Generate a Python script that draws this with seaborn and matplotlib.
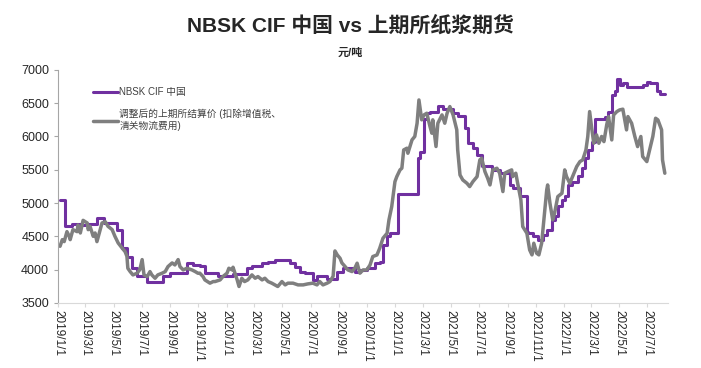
import pandas as pd
import numpy as np
import seaborn as sns
from matplotlib import pyplot as plt

# NBSK CIF China price (step changes, value holds until next date)
nbsk_dates = ['2019-01-05', '2019-01-16', '2019-01-31', '2019-02-18', '2019-03-05', '2019-03-26',
              '2019-04-11', '2019-05-09', '2019-05-20', '2019-05-30', '2019-06-10', '2019-06-21',
              '2019-07-13', '2019-08-16', '2019-09-01', '2019-10-07', '2019-10-20', '2019-11-04',
              '2019-11-15', '2019-12-13', '2020-01-15', '2020-02-14', '2020-02-25', '2020-03-18',
              '2020-03-31', '2020-04-15', '2020-05-18', '2020-05-29', '2020-06-09', '2020-06-20',
              '2020-07-06', '2020-07-15', '2020-08-06', '2020-08-28', '2020-09-09', '2020-10-05',
              '2020-10-16', '2020-10-31', '2020-11-17', '2020-11-28', '2020-12-05', '2020-12-14',
              '2020-12-20', '2021-01-06', '2021-02-19', '2021-02-23', '2021-03-04', '2021-03-10',
              '2021-03-17', '2021-04-03', '2021-04-14', '2021-05-06', '2021-05-16', '2021-06-01',
              '2021-06-07', '2021-06-18', '2021-06-27', '2021-07-07', '2021-07-29', '2021-08-15',
              '2021-09-06', '2021-09-12', '2021-09-28', '2021-10-13', '2021-10-15', '2021-10-26',
              '2021-11-06', '2021-11-16', '2021-11-25', '2021-12-06', '2021-12-12', '2021-12-19',
              '2021-12-28', '2022-01-03', '2022-01-10', '2022-01-18', '2022-01-31', '2022-02-09',
              '2022-02-15', '2022-02-22', '2022-03-03', '2022-03-09', '2022-03-31', '2022-04-06',
              '2022-04-15', '2022-04-21', '2022-04-26', '2022-05-02', '2022-05-09', '2022-05-17',
              '2022-06-21', '2022-06-30', '2022-07-06', '2022-07-21', '2022-07-28', '2022-08-08']
nbsk_values = [5040, 4660, 4680, 4670, 4690, 4770,
               4700, 4600, 4330, 4190, 4020, 3900,
               3820, 3900, 3950, 4100, 4070, 4050,
               3950, 3900, 3940, 4020, 4050, 4100,
               4120, 4140, 4100, 4040, 3970, 3950,
               3850, 3900, 3860, 3970, 4020, 3970,
               4000, 4020, 4100, 4120, 4370, 4500,
               4550, 5140, 5670, 5770, 6270, 6350,
               6370, 6460, 6420, 6350, 6310, 6120,
               5900, 5820, 5720, 5560, 5490, 5450,
               5270, 5220, 5100, 4570, 4550, 4500,
               4450, 4520, 4600, 4750, 4800, 4950,
               5050, 5100, 5270, 5320, 5400, 5520,
               5670, 5800, 5920, 6260, 6300, 6370,
               6620, 6680, 6860, 6770, 6800, 6750,
               6770, 6820, 6810, 6690, 6640, 6640]

# adjusted SHFE settlement price
shfe_dates = ['2019-01-05', '2019-01-10', '2019-01-14', '2019-01-20', '2019-01-25', '2019-01-27',
              '2019-02-02', '2019-02-11', '2019-02-13', '2019-02-18', '2019-02-24', '2019-03-05',
              '2019-03-07', '2019-03-11', '2019-03-18', '2019-03-22', '2019-03-26', '2019-03-31',
              '2019-04-06', '2019-04-13', '2019-04-19', '2019-04-28', '2019-05-04', '2019-05-11',
              '2019-05-20', '2019-05-26', '2019-05-30', '2019-06-01', '2019-06-06', '2019-06-12',
              '2019-06-21', '2019-06-27', '2019-07-02', '2019-07-06', '2019-07-13', '2019-07-19',
              '2019-07-23', '2019-07-30', '2019-08-05', '2019-08-14', '2019-08-21', '2019-08-27',
              '2019-09-05', '2019-09-11', '2019-09-18', '2019-09-22', '2019-09-29', '2019-10-07',
              '2019-10-18', '2019-10-25', '2019-10-31', '2019-11-04', '2019-11-11', '2019-11-15',
              '2019-11-26', '2019-12-03', '2019-12-07', '2019-12-18', '2019-12-24', '2020-01-02',
              '2020-01-06', '2020-01-13', '2020-01-15', '2020-01-24', '2020-01-28', '2020-02-03',
              '2020-02-09', '2020-02-16', '2020-02-25', '2020-03-03', '2020-03-09', '2020-03-18',
              '2020-03-24', '2020-03-31', '2020-04-08', '2020-04-15', '2020-04-21', '2020-04-30',
              '2020-05-07', '2020-05-13', '2020-05-24', '2020-06-04', '2020-06-15', '2020-06-25',
              '2020-07-06', '2020-07-15', '2020-07-21', '2020-07-28', '2020-08-06', '2020-08-12',
              '2020-08-19', '2020-08-23', '2020-08-28', '2020-09-03', '2020-09-07', '2020-09-14',
              '2020-09-20', '2020-09-29', '2020-10-05', '2020-10-10', '2020-10-16', '2020-10-23',
              '2020-10-31', '2020-11-07', '2020-11-13', '2020-11-22', '2020-11-28', '2020-12-05',
              '2020-12-14', '2020-12-18', '2020-12-24', '2020-12-31', '2021-01-04', '2021-01-11',
              '2021-01-15', '2021-01-19', '2021-01-26', '2021-01-28', '2021-02-06', '2021-02-12',
              '2021-02-17', '2021-02-21', '2021-02-27', '2021-03-04', '2021-03-10', '2021-03-17',
              '2021-03-21', '2021-03-23', '2021-03-30', '2021-04-03', '2021-04-12', '2021-04-18',
              '2021-04-23', '2021-04-29', '2021-05-06', '2021-05-14', '2021-05-16', '2021-05-21',
              '2021-05-27', '2021-06-05', '2021-06-11', '2021-06-18', '2021-06-27', '2021-07-03',
              '2021-07-07', '2021-07-14', '2021-07-20', '2021-07-25', '2021-07-31', '2021-08-09',
              '2021-08-15', '2021-08-22', '2021-08-26', '2021-09-02', '2021-09-10', '2021-09-12',
              '2021-09-19', '2021-09-23', '2021-09-30', '2021-10-04', '2021-10-13', '2021-10-19',
              '2021-10-24', '2021-10-28', '2021-11-03', '2021-11-08', '2021-11-14', '2021-11-21',
              '2021-11-25', '2021-11-27', '2021-12-02', '2021-12-08', '2021-12-12', '2021-12-19',
              '2021-12-28', '2022-01-03', '2022-01-07', '2022-01-14', '2022-01-20', '2022-01-29',
              '2022-02-05', '2022-02-11', '2022-02-18', '2022-02-22', '2022-02-26', '2022-03-03',
              '2022-03-07', '2022-03-13', '2022-03-18', '2022-03-24', '2022-03-29', '2022-04-04',
              '2022-04-08', '2022-04-15', '2022-04-19', '2022-04-26', '2022-05-02', '2022-05-09',
              '2022-05-17', '2022-05-20', '2022-05-28', '2022-06-04', '2022-06-10', '2022-06-17',
              '2022-06-21', '2022-06-30', '2022-07-06', '2022-07-13', '2022-07-19', '2022-07-24',
              '2022-07-28', '2022-08-01', '2022-08-03', '2022-08-08']
shfe_values = [4350, 4450, 4420, 4570, 4500, 4450,
               4600, 4570, 4670, 4550, 4740, 4700,
               4600, 4650, 4500, 4550, 4420, 4550,
               4700, 4720, 4650, 4600, 4500, 4400,
               4320, 4270, 4200, 4020, 3970, 3920,
               3945, 4000, 4150, 3920, 3895, 3970,
               3920, 3870, 3920, 3945, 3970, 4045,
               4100, 4070, 4150, 4045, 3995, 4020,
               3995, 3970, 3945, 3946, 3895, 3845,
               3796, 3820, 3820, 3845, 3895, 3946,
               4020, 3995, 4035, 3845, 3746, 3870,
               3820, 3845, 3920, 3870, 3895, 3845,
               3870, 3820, 3796, 3770, 3746, 3820,
               3770, 3796, 3796, 3770, 3770, 3785,
               3796, 3770, 3820, 3770, 3796, 3820,
               3900, 4280, 4220, 4170, 4100, 4045,
               3995, 3970, 4020, 4096, 3946, 3995,
               3995, 4070, 4196, 4220, 4321, 4471,
               4546, 4746, 4946, 5322, 5397, 5498,
               5523, 5798, 5824, 5748, 5949, 6000,
               6199, 6549, 6250, 6324, 6349, 6149,
               6049, 6250, 5849, 6199, 6324, 6199,
               6349, 6449, 6324, 6100, 5798, 5422,
               5347, 5297, 5247, 5322, 5397, 5648,
               5673, 5473, 5372, 5272, 5498, 5523,
               5448, 5172, 5448, 5473, 5498, 5397,
               5448, 5297, 5047, 4646, 4546, 4296,
               4221, 4396, 4246, 4221, 4396, 4897,
               5197, 5272, 4997, 4747, 4847, 5097,
               5147, 5498, 5397, 5297, 5397, 5548,
               5623, 5648, 5798, 6000, 6374, 6099,
               5898, 6024, 5898, 6000, 5923, 6174,
               6299, 5948, 6324, 6374, 6399, 6410,
               6099, 6299, 6199, 6000, 5848, 6000,
               5698, 5623, 5798, 6000, 6274, 6249,
               6174, 6099, 5648, 5448]

label_nbsk = 'NBSK CIF 中国'
label_shfe = '调整后的上期所结算价 (扣除增值税、\n清关物流费用)'
tick_dates = pd.date_range('2019-01-01', '2022-07-01', freq='2MS')
tick_labels = [f'{d.year}/{d.month}/{d.day}' for d in tick_dates]

sns.set_style('white')
plt.rcParams['font.family'] = ['Liberation Sans', 'Noto Sans CJK SC', 'DejaVu Sans']

nbsk = pd.DataFrame({'date': pd.to_datetime(nbsk_dates), 'price': nbsk_values})
shfe = pd.DataFrame({'date': pd.to_datetime(shfe_dates), 'price': shfe_values})

fig = plt.figure(figsize=(7.01, 3.68), dpi=100)
ax = fig.add_axes([0.083, 0.177, 0.87, 0.633])

sns.lineplot(data=nbsk, x='date', y='price', ax=ax, color='#7030A0', linewidth=2.2,
             drawstyle='steps-post', label=label_nbsk)
sns.lineplot(data=shfe, x='date', y='price', ax=ax, color='#7F7F7F', linewidth=2.5,
             label=label_shfe)

ax.set_xlim(pd.Timestamp('2019-01-01'), pd.Timestamp('2022-08-15'))
ax.set_ylim(3500, 7000)
ax.set_yticks(range(3500, 7001, 500))
ax.set_xticks(tick_dates)
ax.set_xticklabels(tick_labels, rotation=270, fontsize=8.5, va='top', ha='center')
ax.tick_params(axis='y', labelsize=9, length=3, color='#A6A6A6', direction='out', left=True)
ax.tick_params(axis='x', length=3, color='#D9D9D9', direction='out', bottom=True, pad=2)
ax.set_xlabel('')
ax.set_ylabel('')

for s in ['top', 'right']:
    ax.spines[s].set_visible(False)
ax.spines['left'].set_color('#A6A6A6')
ax.spines['bottom'].set_color('#D9D9D9')

leg = ax.legend(loc='upper left', bbox_to_anchor=(0.043, 0.963), frameon=False, fontsize=7,
                handlelength=2.6, handletextpad=0.1, labelspacing=1.2)
for t in leg.get_texts():
    t.set_color('#404040')

fig.text(0.5, 0.932, 'NBSK CIF 中国 vs 上期所纸浆期货', ha='center', va='center',
         fontsize=15, fontweight='bold')
fig.text(0.5, 0.856, '元/吨', ha='center', va='center', fontsize=8, fontweight='bold')

fig.savefig('out.png', dpi=100)
